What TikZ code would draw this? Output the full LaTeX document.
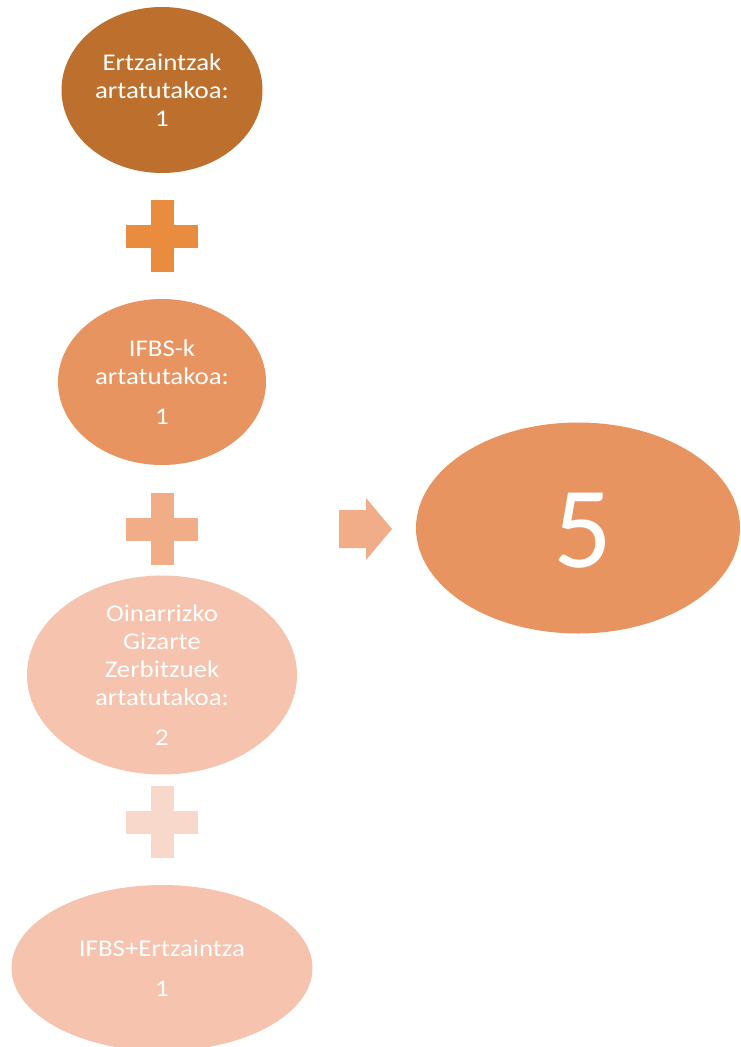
\documentclass[tikz,border=0pt]{standalone}
\usepackage{fontspec}
\setmainfont{Carlito}[FakeStretch=1.12]
\newfontfamily\digitfont{Carlito}
\usetikzlibrary{shapes.geometric}
\definecolor{rustbrown}{HTML}{BD6F2E}
\definecolor{plusorange}{HTML}{E98C3E}
\definecolor{midorange}{HTML}{E89460}
\definecolor{lightorange}{HTML}{F0AD88}
\definecolor{paleorange}{HTML}{F5C3AE}
\definecolor{faintorange}{HTML}{F8D8CB}

\begin{document}
\begin{tikzpicture}[x=1pt,y=-1pt,font=\fontsize{24}{28}\selectfont,
    blob/.style={ellipse,inner sep=0pt,text=white,align=center,minimum height=166},
    plussign/.pic={\fill (-36,-11.5) rectangle (36,11.5); \fill (-11.5,-36) rectangle (11.5,36);}]
        \useasboundingbox (0,0) rectangle (740,1047);
        \clip (0,0) rectangle (740,1047);
        \node [blob,fill=rustbrown,minimum width=201] (ertz) at (162,90) {Ertzaintzak\\artatutakoa:\\1};
        \pic [fill=plusorange] at (162,236) {plussign};
        \node [blob,fill=midorange,minimum width=208] (ifbs) at (162,382) {IFBS-k\\artatutakoa:\\[12pt]1};
        \pic [fill=lightorange] at (162,529) {plussign};
        \node [blob,fill=paleorange,minimum width=270] (oinarri) at (162,675) {Oinarrizko\\Gizarte\\Zerbitzuek\\artatutakoa:\\[12pt]2};
        \pic [fill=faintorange] at (162,822) {plussign};
        \node [blob,fill=paleorange,minimum width=301] (both) at (162,968) {IFBS+Ertzaintza\\[12pt]1};
        \fill [lightorange] (339,510) -- (366,510) -- (366,498) -- (392,529) -- (366,560) -- (366,548) -- (339,548) -- cycle;
        \node [blob,fill=midorange,minimum width=324,minimum height=211] (total) at (578,528) {};
        \node [text=white,font=\digitfont\fontsize{116}{116}\selectfont] (five) at (583,531) {5};
    \end{tikzpicture}
\end{document}
